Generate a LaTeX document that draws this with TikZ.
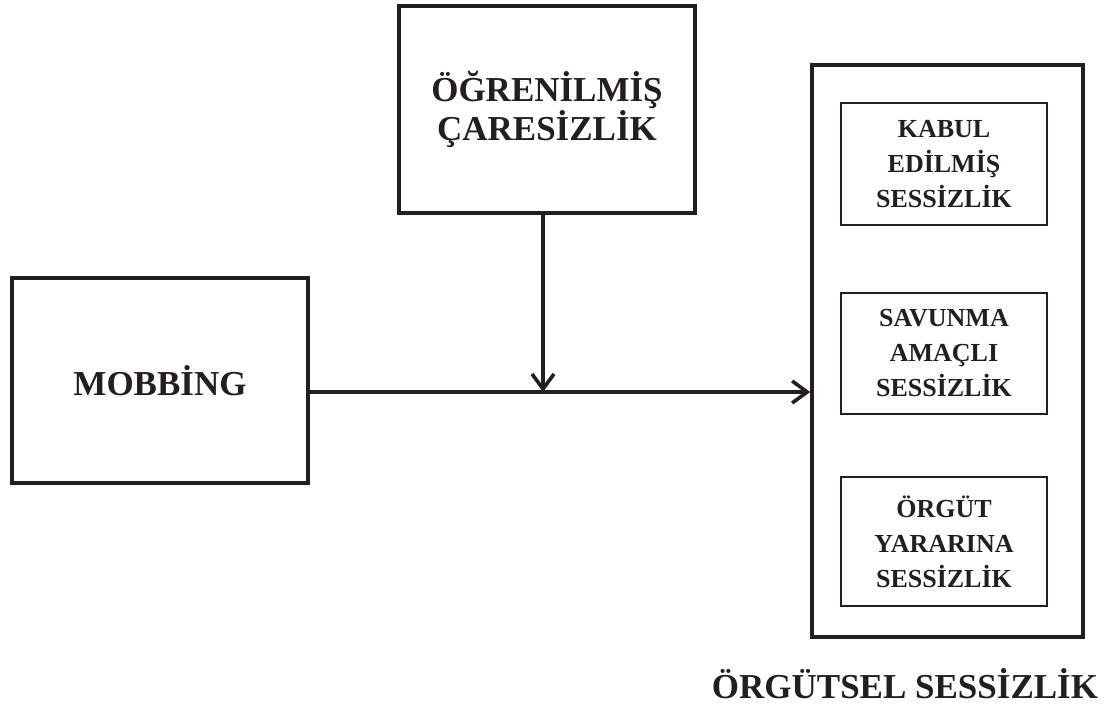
\documentclass[tikz,border=0pt]{standalone}
\usepackage{fontspec}
\setmainfont{Liberation Serif}
\usetikzlibrary{arrows.meta}
\definecolor{ink}{RGB}{35,31,32}
\tikzset{
  bigbox/.style={draw=ink, line width=3.6pt, inner sep=0pt, align=center,
    text=ink, font=\fontsize{35}{37}\selectfont\bfseries},
  smallbox/.style={draw=ink, line width=2.6pt, inner sep=0pt, align=center,
    text=ink, minimum width=206pt, font=\fontsize{26}{35}\selectfont\bfseries},
  link/.style={draw=ink, line width=3.6pt,
    -{Straight Barb[length=15pt,width=22pt,line width=3.6pt]}},
}
\begin{document}
\begin{tikzpicture}[x=1pt, y=-1pt]
  \useasboundingbox (0,0) rectangle (1114,705);

  % main boxes
  \node[bigbox, minimum width=296pt, minimum height=205pt] (mob) at (160,380.5) {MOBB\.{I}NG};
  \node[bigbox, minimum width=296pt, minimum height=207pt] (learn) at (547,109.5)
    {ÖĞREN\.{I}LM\.{I}Ş\\ÇARES\.{I}ZL\.{I}K};

  % organisational silence and its three forms
  \node[draw=ink, line width=3.6pt, minimum width=271pt, minimum height=572pt, inner sep=0pt]
    (org) at (947.5,351) {};
  \node[smallbox, minimum height=122pt] (kabul) at (944,164) {KABUL\\ED\.{I}LM\.{I}Ş\\SESS\.{I}ZL\.{I}K};
  \node[smallbox, minimum height=121pt] (savun) at (944,353.5) {SAVUNMA\\AMAÇLI\\SESS\.{I}ZL\.{I}K};
  \node[smallbox, minimum height=129pt] (yarar) at (944,541.5) {ÖRGÜT\\YARARINA\\SESS\.{I}ZL\.{I}K};
  \node[anchor=base, text=ink, inner sep=0pt, font=\fontsize{35}{37}\selectfont\bfseries]
    (title) at (905,698) {ÖRGÜTSEL SESS\.{I}ZL\.{I}K};

  % connectors
  \coordinate (join) at (543,392);
  \draw[link] (mob.east |- join) -- (org.west |- join);
  \draw[link] (join |- learn.south) -- (join);
\end{tikzpicture}
\end{document}
